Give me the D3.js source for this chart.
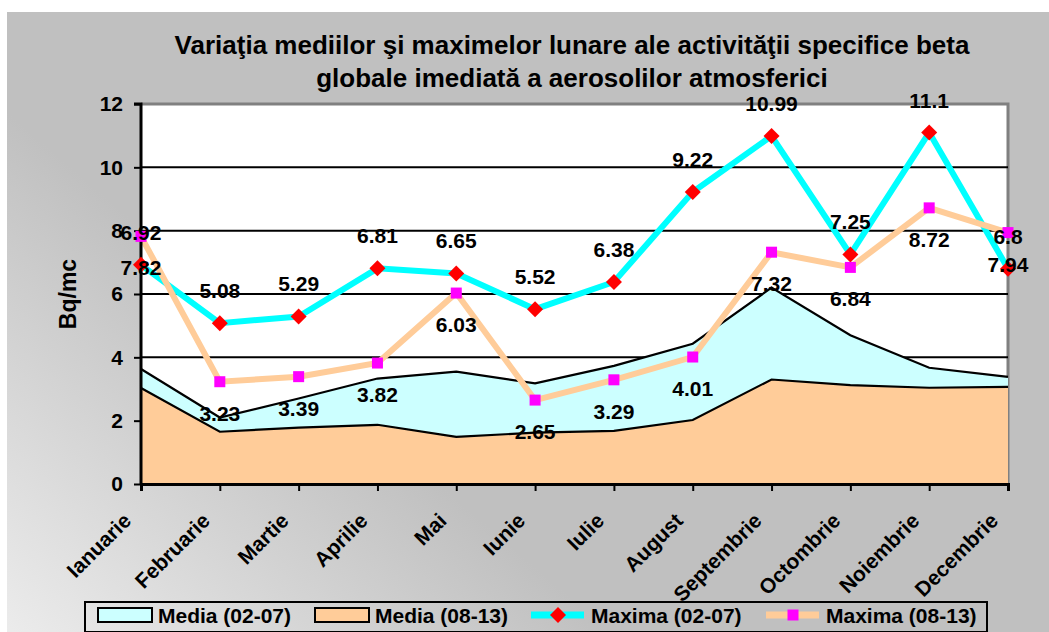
<!DOCTYPE html>
<html>
<head>
<meta charset="utf-8">
<script src="https://cdn.jsdelivr.net/npm/d3@7"></script>
<style>
  html, body { margin: 0; padding: 0; background: #fff; }
  svg { display: block; font-family: "Liberation Sans", Arial, sans-serif; }
</style>
</head>
<body>
<svg id="chart"></svg>
<script>
const WIDTH = 1049;
const HEIGHT = 632;

const months = ['Ianuarie', 'Februarie', 'Martie', 'Aprilie', 'Mai', 'Iunie',
	'Iulie', 'August', 'Septembrie', 'Octombrie', 'Noiembrie', 'Decembrie'];

// values
const media0207 = [3.63, 2.1, 2.7, 3.33, 3.55, 3.18, 3.73, 4.43, 6.2, 4.7, 3.67, 3.38];
const media0813 = [3.03, 1.65, 1.78, 1.87, 1.49, 1.62, 1.68, 2.02, 3.3, 3.12, 3.04, 3.07];
const maxima0207 = [6.92, 5.08, 5.29, 6.81, 6.65, 5.52, 6.38, 9.22, 10.99, 7.25, 11.1, 6.8];
const maxima0813 = [7.82, 3.23, 3.39, 3.82, 6.03, 2.65, 3.29, 4.01, 7.32, 6.84, 8.72, 7.94];
const yTicks = [0, 2, 4, 6, 8, 10, 12];

const titleLines = ['Variaţia mediilor şi maximelor lunare ale activităţii specifice beta',
	'globale imediată a aerosolilor atmosferici'];

const legendItems = [
	{ label: 'Media (02-07)', type: 'area', fill: '#ccffff' },
	{ label: 'Media (08-13)', type: 'area', fill: '#ffcc99' },
	{ label: 'Maxima (02-07)', type: 'line', stroke: '#00ffff', marker: 'diamond' },
	{ label: 'Maxima (08-13)', type: 'line', stroke: '#ffcc99', marker: 'square' }
];

const svg = d3.select('#chart').attr('width', WIDTH).attr('height', HEIGHT);

// background gradient
const defs = svg.append('defs');
const grad = defs.append('linearGradient')
	.attr('id', 'bg')
	.attr('gradientUnits', 'userSpaceOnUse')
	.attr('x1', 0).attr('y1', HEIGHT)
	.attr('x2', 260).attr('y2', 330);
grad.append('stop').attr('offset', 0).attr('stop-color', '#ececec');
grad.append('stop').attr('offset', 1).attr('stop-color', '#c0c0c0');

svg.append('rect')
	.attr('x', 7).attr('y', 12)
	.attr('width', WIDTH - 7).attr('height', HEIGHT - 12)
	.attr('fill', 'url(#bg)');

const plot = { left: 141, right: 1008, top: 104, bottom: 484 };

const x = d3.scalePoint().domain(months).range([plot.left, plot.right]);
const y = d3.scaleLinear().domain([0, 12]).range([plot.bottom, plot.top]);

// plot area
svg.append('rect')
	.attr('x', plot.left).attr('y', plot.top)
	.attr('width', plot.right - plot.left).attr('height', plot.bottom - plot.top)
	.attr('fill', '#fff');

svg.append('path')
	.attr('d', `M${plot.left},${plot.top}H${plot.right}V${plot.bottom}`)
	.attr('fill', 'none')
	.attr('stroke', '#808080')
	.attr('stroke-width', 3);

// gridlines
svg.append('g')
	.selectAll('line')
	.data(yTicks.filter((t) => t > 0 && t < 12))
	.enter()
	.append('line')
	.attr('x1', plot.left).attr('x2', plot.right)
	.attr('y1', (d) => y(d)).attr('y2', (d) => y(d))
	.attr('stroke', '#000')
	.attr('stroke-width', 2);

// AREAS
const area = (vals) => d3.area()
	.x((d, i) => x(months[i]))
	.y0(y(0))
	.y1((d) => y(d))(vals);
const topLine = (vals) => d3.line()
	.x((d, i) => x(months[i]))
	.y((d) => y(d))(vals);

[[media0207, '#ccffff'], [media0813, '#ffcc99']].forEach(([vals, fill]) => {
	svg.append('path').attr('d', area(vals)).attr('fill', fill);
	svg.append('path')
		.attr('d', topLine(vals))
		.attr('fill', 'none')
		.attr('stroke', '#000')
		.attr('stroke-width', 2.2);
});

// LINES
const series = [
	{ vals: maxima0207, stroke: '#00ffff', marker: 'diamond', labelDy: -25 },
	{ vals: maxima0813, stroke: '#ffcc99', marker: 'square', labelDy: 39 }
];

function drawMarker(g, type, cx, cy) {
	if (type === 'diamond') {
		g.append('path')
			.attr('d', `M${cx},${cy - 8}L${cx + 8},${cy}L${cx},${cy + 8}L${cx - 8},${cy}Z`)
			.attr('fill', '#ff0000');
	} else {
		g.append('rect')
			.attr('x', cx - 5.5).attr('y', cy - 5.5)
			.attr('width', 11).attr('height', 11)
			.attr('fill', '#ff00ff');
	}
}

series.forEach((s) => {
	svg.append('path')
		.attr('d', topLine(s.vals))
		.attr('fill', 'none')
		.attr('stroke', s.stroke)
		.attr('stroke-width', 6)
		.attr('stroke-linejoin', 'miter');
});

// axes
const yAxis = svg.append('g')
	.attr('transform', `translate(${plot.left},0)`)
	.call(d3.axisLeft(y).tickValues(yTicks).tickSize(7).tickPadding(11));
const xAxis = svg.append('g')
	.attr('transform', `translate(0,${plot.bottom})`)
	.call(d3.axisBottom(x).tickSize(7).tickFormat(''));

[yAxis, xAxis].forEach((ax) => {
	ax.select('.domain').attr('stroke', '#000').attr('stroke-width', 3);
	ax.selectAll('.tick line').attr('stroke', '#000').attr('stroke-width', 2);
});
yAxis.select('.domain').attr('d', `M-7,${plot.top}H0V${plot.bottom}`);
yAxis.selectAll('.tick text')
	.attr('font-size', '21px')
	.attr('font-weight', 'bold')
	.attr('fill', '#000');

xAxis.selectAll('.tick')
	.append('text')
	.attr('transform', 'translate(-9,38) rotate(-45)')
	.attr('text-anchor', 'end')
	.attr('font-size', '21px')
	.attr('font-weight', 'bold')
	.attr('fill', '#000')
	.text((d) => d);

// markers and labels on top
series.forEach((s) => {
	const g = svg.append('g');
	s.vals.forEach((v, i) => drawMarker(g, s.marker, x(months[i]), y(v)));
});
series.forEach((s) => {
	svg.append('g')
		.selectAll('text')
		.data(s.vals)
		.enter()
		.append('text')
		.attr('x', (d, i) => x(months[i]))
		.attr('y', (d) => y(d) + s.labelDy)
		.attr('text-anchor', 'middle')
		.attr('font-size', '21px')
		.attr('font-weight', 'bold')
		.text((d) => d);
});

// axis title
svg.append('text')
	.attr('transform', `translate(76,${(plot.top + plot.bottom) / 2}) rotate(-90)`)
	.attr('text-anchor', 'middle')
	.attr('font-size', '23px')
	.attr('font-weight', 'bold')
	.text('Bq/mc');

// title
svg.append('g')
	.selectAll('text')
	.data(titleLines)
	.enter()
	.append('text')
	.attr('x', 572)
	.attr('y', (d, i) => 54 + i * 33)
	.attr('text-anchor', 'middle')
	.attr('font-size', '26px')
	.attr('font-weight', 'bold')
	.text((d) => d);

// LEGEND
const legend = svg.append('g');
legend.append('rect')
	.attr('x', 85).attr('y', 602)
	.attr('width', 902).attr('height', 30)
	.attr('fill', 'none')
	.attr('stroke', '#000')
	.attr('stroke-width', 2);

const legendX = [98, 315, 531, 766];
legendItems.forEach((it, i) => {
	const lx = legendX[i];
	const cy = 615;
	if (it.type === 'area') {
		legend.append('rect')
			.attr('x', lx).attr('y', cy - 7)
			.attr('width', 54).attr('height', 14)
			.attr('fill', it.fill)
			.attr('stroke', '#000')
			.attr('stroke-width', 2);
	} else {
		legend.append('line')
			.attr('x1', lx).attr('x2', lx + 53)
			.attr('y1', cy).attr('y2', cy)
			.attr('stroke', it.stroke)
			.attr('stroke-width', 7);
		drawMarker(legend, it.marker, lx + 27, cy);
	}
	legend.append('text')
		.attr('x', lx + 60)
		.attr('y', cy + 8)
		.attr('font-size', '21px')
		.attr('font-weight', 'bold')
		.text(it.label);
});
</script>
</body>
</html>
